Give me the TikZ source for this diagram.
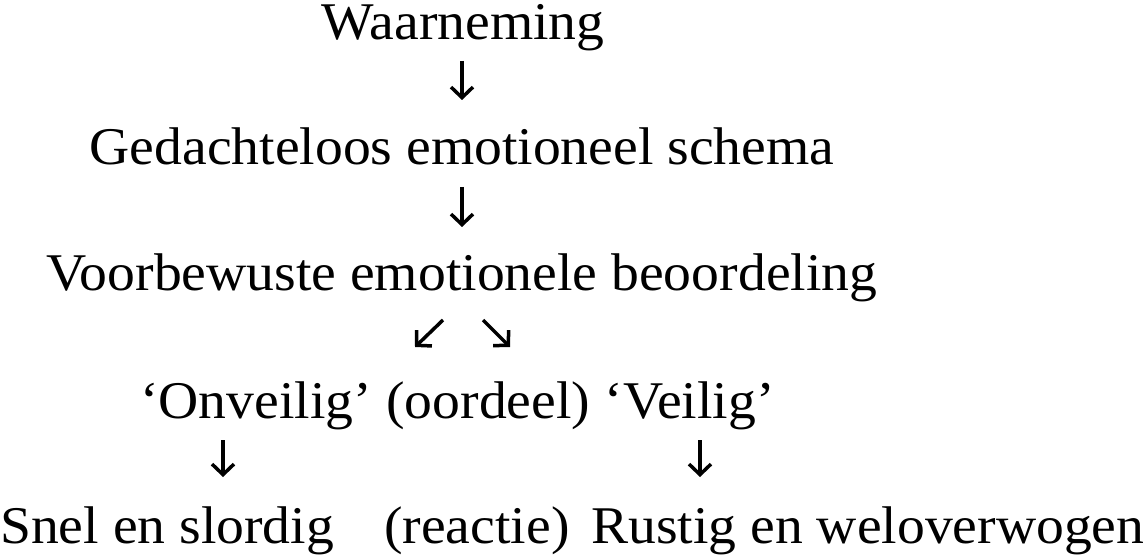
\documentclass[tikz,border=0pt]{standalone}
\usepackage{fontspec}
\setmainfont{Liberation Serif}[FakeStretch=1.05]
\usetikzlibrary{arrows.meta}
\begin{document}
\begin{tikzpicture}[x=1pt,y=-1pt,
  txt/.style={inner sep=0pt,anchor=base west,font=\fontsize{53}{64}\selectfont},
  ctxt/.style={inner sep=0pt,anchor=base,font=\fontsize{53}{64}\selectfont},
  arr/.style={line width=3.5pt,-{Straight Barb[length=10.5pt,width=22pt]}}]
\useasboundingbox (0,0) rectangle (1146,556);
\node[ctxt] (w) at (463,40) {Waarneming};
\node[ctxt] (g) at (462,165) {Gedachteloos emotioneel schema};
\node[ctxt] (v) at (462,290) {Voorbewuste emotionele beoordeling};
\node[txt] (on) at (140,418) {‘Onveilig’};
\node[txt] (oo) at ([xshift=13.9pt]on.base east) {(oordeel)};
\node[txt] (ve) at ([xshift=13.9pt]oo.base east) {‘Veilig’};
\node[txt] (sn) at (0,543) {Snel en slordig};
\node[txt] (re) at (384,543) {(reactie)};
\node[txt] (ru) at (591,543) {Rustig en weloverwogen};
% connector end points
\coordinate (a1s) at (462,61);
\coordinate (a1e) at (462,100);
\coordinate (a2s) at (462,187);
\coordinate (a2e) at (462,227);
\coordinate (dls) at (443,320);
\coordinate (dle) at (415,347);
\coordinate (drs) at (483,320);
\coordinate (dre) at (510,347);
\coordinate (bls) at (223,440);
\coordinate (ble) at (223,477);
\coordinate (brs) at (700,440);
\coordinate (bre) at (700,477);
\draw[arr] (a1s) -- (a1e);
\draw[arr] (a2s) -- (a2e);
\draw[arr] (dls) -- (dle);
\draw[arr] (drs) -- (dre);
\draw[arr] (bls) -- (ble);
\draw[arr] (brs) -- (bre);
\end{tikzpicture}
\end{document}
